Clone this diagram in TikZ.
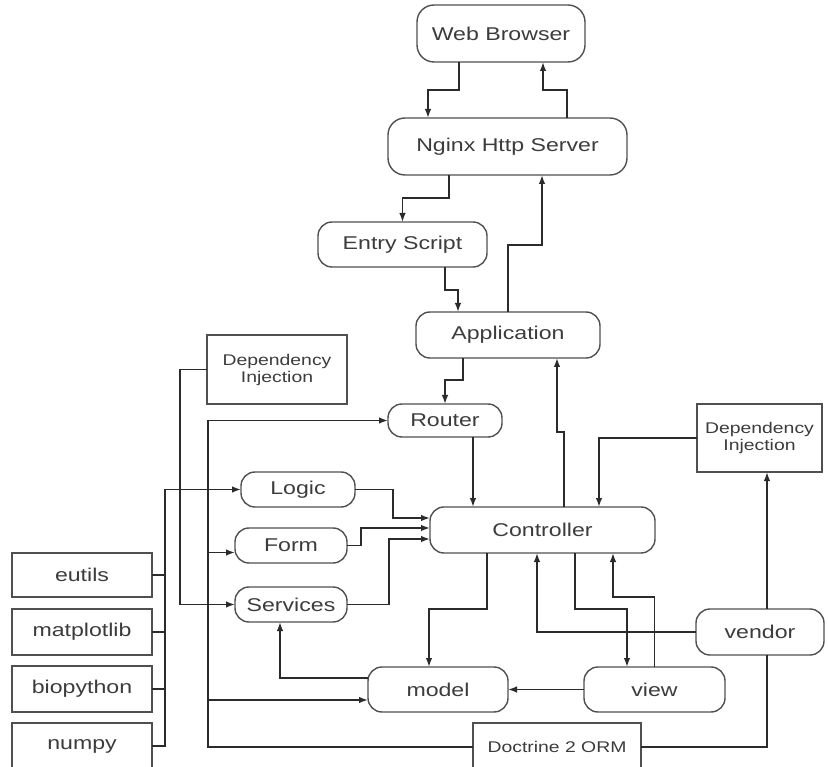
\documentclass[tikz,border=0pt]{standalone}
\usepackage{fontspec}
\setmainfont[FakeStretch=1.25]{Liberation Sans}
\usetikzlibrary{arrows.meta}
\definecolor{edge}{HTML}{2B2B2B}
\definecolor{frame}{HTML}{505050}
\definecolor{label}{HTML}{3C3C3C}

\begin{document}
\begin{tikzpicture}[x=1pt,y=-1pt,
  base/.style={draw=frame, line width=1.4pt, text=label, inner sep=0pt, outer sep=0pt,
    font=\fontsize{18.5}{20}\selectfont},
  pill/.style={base, rounded corners=14pt},
  sq/.style={base},
  small/.style={font=\fontsize{15.5}{17}\selectfont, align=center},
  arr/.style={draw=edge, line width=1.5pt, -{Latex[length=9pt,width=6.5pt]}},
  wire/.style={draw=edge, line width=1.5pt},
]
\clip (0,0) rectangle (828,767);
\fill[white] (0,0) rectangle (828,767);

% request / response chain
\node[pill, rounded corners=17pt, minimum width=168pt, minimum height=57pt] (web) at (501,33.5) {Web Browser};
\node[pill, rounded corners=17pt, minimum width=239pt, minimum height=57pt] (nginx) at (507.5,146.5) {Nginx Http Server};
\node[pill, minimum width=169pt, minimum height=45pt] (entry) at (402.5,244.5) {Entry Script};
\node[pill, minimum width=184pt, minimum height=46pt] (app) at (508,335) {Application};
\node[pill, minimum width=114pt, minimum height=33pt] (router) at (445,420.5) {Router};
\node[pill, minimum width=225pt, minimum height=46pt] (ctrl) at (542.5,530) {Controller};

% side components
\node[sq, small, minimum width=140pt, minimum height=69pt] (dil) at (277,369.5) {Dependency\\Injection};
\node[sq, small, minimum width=125pt, minimum height=68pt] (dir) at (759.5,438) {Dependency\\Injection};
\node[pill, minimum width=114pt, minimum height=35pt] (logic) at (298,489.5) {Logic};
\node[pill, minimum width=112pt, minimum height=35pt] (form) at (291,545.5) {Form};
\node[pill, minimum width=112pt, minimum height=35pt] (serv) at (291,604.5) {Services};
\node[pill, minimum width=128pt, minimum height=46pt] (vendor) at (760,632) {vendor};
\node[pill, minimum width=141pt, minimum height=45pt] (view) at (654.5,689.5) {view};
\node[pill, minimum width=140pt, minimum height=45pt] (model) at (438,689.5) {model};
\node[sq, small, minimum width=168pt, minimum height=48pt] (orm) at (557,747) {Doctrine 2 ORM};

% python libraries
\node[sq, minimum width=140pt, minimum height=44pt] (eutils) at (82,575) {eutils};
\node[sq, minimum width=140pt, minimum height=46pt] (mpl) at (82,632) {matplotlib};
\node[sq, minimum width=140pt, minimum height=46pt] (bio) at (82,689) {biopython};
\node[sq, minimum width=140pt, minimum height=46pt] (numpy) at (82,746) {numpy};

% browser <-> server <-> application
\draw[arr] ([xshift=-42pt]web.south) -- ++(0,28) -| ([xshift=-79.5pt]nginx.north);
\draw[arr] ([xshift=59.5pt]nginx.north) -- ++(0,-28) -| ([xshift=42pt]web.south);
\draw[arr] ([xshift=-58.5pt]nginx.south) -- ++(0,23) -| (entry.north);
\draw[arr] ([xshift=42.5pt]entry.south) -- ++(0,23) -| ([xshift=-50pt]app.north);
\draw[arr] (app.north) -- ++(0,-67) -| ([xshift=34.5pt]nginx.south);
\draw[arr] ([xshift=-45pt]app.south) -- ++(0,22) -| (router.north);
\draw[arr] ([xshift=28pt]router.south) -- ([xshift=28pt]router.south |- ctrl.north);
\draw[arr] ([xshift=21.5pt]ctrl.north) -- ++(0,-75) -| ([xshift=49pt]app.south);

% controller neighbourhood
\draw[arr] (dir.west) -| ([xshift=56.5pt]ctrl.north);
\draw[arr] ([xshift=7pt]vendor.north) -- ([xshift=7pt]vendor.north |- dir.south);
\draw[arr] (vendor.west) -| ([xshift=-5.5pt]ctrl.south);
\draw[arr] ([xshift=32.5pt]ctrl.south) -- ++(0,56) -| ([xshift=-27.5pt]view.north);
\draw[arr] (view.north) -- ++(0,-70) -| ([xshift=70.5pt]ctrl.south);
\draw[arr] ([xshift=-55.5pt]ctrl.south) -- ++(0,56) -| ([xshift=-9pt]model.north);
\draw[arr] (view.west) -- (model.east);
\draw[arr] ([yshift=11.5pt]model.west) -| ([xshift=-11pt]serv.south);

% logic, form and services feed the controller
\draw[arr] (logic.east) -- ++(38,0) |- ([yshift=12pt]ctrl.west);
\draw[arr] (form.east) -- ++(14,0) |- ([yshift=2pt]ctrl.west);
\draw[arr] (serv.east) -- ++(42,0) |- ([yshift=-9pt]ctrl.west);
\draw[arr] (dil.west) -- ++(-27,0) |- (serv.west);

% libraries bus into Logic
\draw[wire] (eutils.east) -- ++(13,0);
\draw[wire] (mpl.east) -- ++(13,0);
\draw[wire] (bio.east) -- ++(13,0);
\draw[arr] (numpy.east) -- ++(13,0) |- (logic.west);

% ORM bus
\coordinate (trunk) at ([xshift=-265pt]orm.west);
\coordinate (formin) at ([yshift=-7pt]form.west);
\coordinate (modelin) at ([yshift=-10.5pt]model.west);
\draw[arr] (orm.west) -- (trunk) |- (router.west);
\draw[arr] (trunk |- formin) -- (formin);
\draw[arr] (trunk |- modelin) -- (modelin);
\draw[wire] (orm.east) -| ([xshift=7pt]vendor.south);
\end{tikzpicture}
\end{document}
